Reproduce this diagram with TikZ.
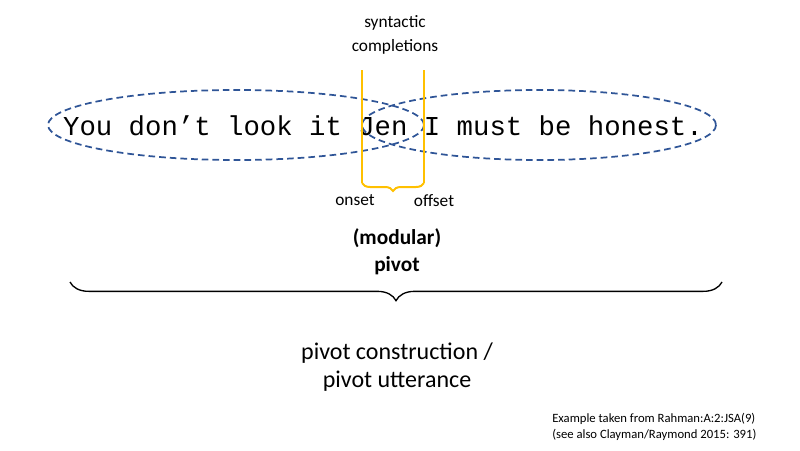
\documentclass[tikz,border=0pt]{standalone}
\usepackage{fontspec}
\setmainfont{Carlito}
\newfontfamily\monof{Liberation Mono}
\usetikzlibrary{decorations.pathreplacing}
\definecolor{ellblue}{HTML}{2F5597}
\definecolor{gold}{HTML}{FFC000}
\begin{document}
\begin{tikzpicture}[x=0.75pt,y=-0.75pt,
  ell/.style={draw=ellblue,line width=1.3pt,dash pattern=on 5pt off 3pt},
  yl/.style={draw=gold,line width=1.5pt},
  lab/.style={font=\fontsize{13}{15}\selectfont,inner sep=0pt}]
\useasboundingbox (0,0) rectangle (800,450);
\draw[ell] (236,125) ellipse [x radius=188,y radius=35];
\draw[ell] (539,125) ellipse [x radius=177,y radius=35];
\node[inner sep=0pt,font=\monof\fontsize{20.5}{24}\selectfont] (sent) at (383,126) {You don’t look it Jen I must be honest.};
\coordinate (ltop) at (362,70); \coordinate (lbot) at (362,183);
\coordinate (rtop) at (424,70); \coordinate (rbot) at (424,183);
\draw[yl] (ltop) -- (lbot);
\draw[yl] (rtop) -- (rbot);
\draw[yl,decorate,decoration={brace,mirror,amplitude=6pt}] (lbot) -- (rbot);
\node[lab,align=center] (syn) at (395,35) {syntactic\\[3pt]completions};
\node[lab] (on) at (355,200) {onset};
\node[lab] (off) at (434,201) {offset};
\node[align=center,font=\bfseries\fontsize{16}{20}\selectfont,inner sep=0pt] (piv) at (397,252) {(modular)\\pivot};
\coordinate (bl) at (70,282); \coordinate (br) at (722,282);
\draw[line width=1pt,decorate,decoration={brace,mirror,amplitude=14pt}] (bl) -- (br);
\node[align=center,font=\fontsize{18}{21}\selectfont,inner sep=0pt] (pc) at (397,367) {pivot construction /\\pivot utterance};
\node[anchor=west,align=left,font=\fontsize{9.5}{11.5}\selectfont,inner sep=0pt] (fn) at (552,427) {Example taken from Rahman:A:2:JSA(9)\\(see also Clayman/Raymond 2015: 391)};
\end{tikzpicture}
\end{document}
